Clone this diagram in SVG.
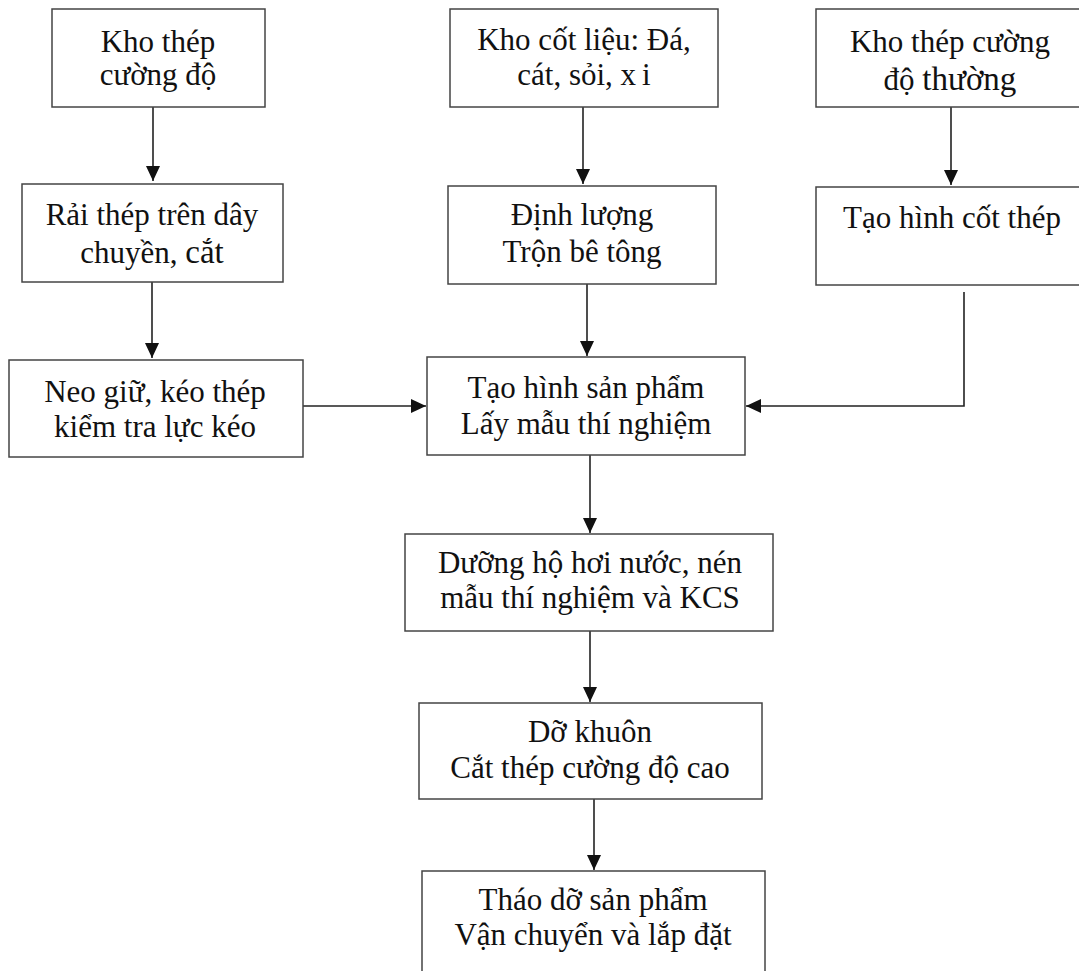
<svg xmlns="http://www.w3.org/2000/svg" width="1079" height="971" viewBox="0 0 1079 971">
<style>
.box{fill:#fff;stroke:#444;stroke-width:1.5}
.t{font-family:"Liberation Serif","Times New Roman",serif;font-size:31px;fill:#111;text-anchor:middle}
.big{font-size:33px}
.c{fill:none;stroke:#222;stroke-width:1.6}
</style>
<defs>
<marker id="ah" viewBox="0 0 15 14" refX="15" refY="7" markerWidth="15" markerHeight="14" markerUnits="userSpaceOnUse" orient="auto">
<path d="M0,0 L15,7 L0,14 z" fill="#111"/>
</marker>
</defs>
<rect width="1079" height="971" fill="#fff"/>
<g id="connectors">
<line class="c" x1="153" y1="107" x2="153" y2="181" marker-end="url(#ah)"/>
<line class="c" x1="152" y1="282" x2="152" y2="358" marker-end="url(#ah)"/>
<line class="c" x1="303" y1="406" x2="426" y2="406" marker-end="url(#ah)"/>
<line class="c" x1="583" y1="107" x2="583" y2="184" marker-end="url(#ah)"/>
<line class="c" x1="587" y1="284" x2="587" y2="356" marker-end="url(#ah)"/>
<line class="c" x1="951" y1="107" x2="951" y2="185" marker-end="url(#ah)"/>
<polyline class="c" points="964,292 964,406 746,406" marker-end="url(#ah)"/>
<line class="c" x1="590" y1="455" x2="590" y2="533" marker-end="url(#ah)"/>
<line class="c" x1="590" y1="631" x2="590" y2="702" marker-end="url(#ah)"/>
<line class="c" x1="594" y1="799" x2="594" y2="870" marker-end="url(#ah)"/>
</g>
<g id="n1"><rect class="box" x="52" y="9" width="213" height="98"/>
<text class="t" x="158" y="52">Kho thép</text><text class="t" x="158" y="85">cường độ</text></g>
<g id="n2"><rect class="box" x="22" y="184" width="261" height="98"/>
<text class="t" x="152" y="225">Rải thép trên dây</text><text class="t" x="152" y="263">chuyền, <tspan class="big">cắt</tspan></text></g>
<g id="n3"><rect class="box" x="9" y="360" width="294" height="97"/>
<text class="t" x="155" y="402">Neo giữ, kéo thép</text><text class="t" x="155" y="437">kiểm tra lực kéo</text></g>
<g id="n4"><rect class="box" x="450" y="9" width="268" height="98"/>
<text class="t" x="584" y="50">Kho cốt liệu: Đá,</text><text class="t" x="584" y="85">cát, sỏi, x<tspan dx="6">i</tspan></text></g>
<g id="n5"><rect class="box" x="448" y="186" width="268" height="98"/>
<text class="t" x="582" y="225">Định lượng</text><text class="t" x="582" y="262">Trộn bê tông</text></g>
<g id="n6"><rect class="box" x="816" y="9" width="275" height="98"/>
<text class="t" x="950" y="52">Kho thép cường</text><text class="t" x="950" y="90">độ <tspan class="big">thường</tspan></text></g>
<g id="n7"><rect class="box" x="816" y="187" width="275" height="98"/>
<text class="t" x="952" y="228">Tạo hình cốt thép</text></g>
<g id="n8"><rect class="box" x="427" y="357" width="318" height="98"/>
<text class="t" x="586" y="398">Tạo hình sản phẩm</text><text class="t" x="586" y="434">Lấy mẫu thí nghiệm</text></g>
<g id="n9"><rect class="box" x="405" y="534" width="368" height="97"/>
<text class="t" x="590" y="573">Dưỡng hộ hơi nước, nén</text><text class="t" x="590" y="608">mẫu thí nghiệm và KCS</text></g>
<g id="n10"><rect class="box" x="419" y="703" width="343" height="96"/>
<text class="t" x="590" y="742">Dỡ khuôn</text><text class="t" x="590" y="778">Cắt thép cường độ cao</text></g>
<g id="n11"><rect class="box" x="422" y="871" width="343" height="120"/>
<text class="t" x="593" y="910">Tháo dỡ sản phẩm</text><text class="t" x="593" y="945">Vận chuyển và lắp đặt</text></g>
</svg>
